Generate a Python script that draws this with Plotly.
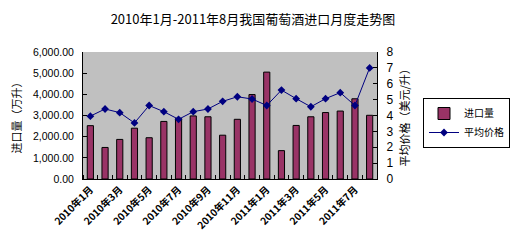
import plotly.graph_objects as go

months = ["2010年1月","2010年2月","2010年3月","2010年4月","2010年5月","2010年6月","2010年7月",
          "2010年8月","2010年9月","2010年10月","2010年11月","2010年12月","2011年1月","2011年2月",
          "2011年3月","2011年4月","2011年5月","2011年6月","2011年7月","2011年8月"]
volume = [2520, 1490, 1870, 2400, 1950, 2720, 2860, 2980, 2940, 2070, 2820, 3990,
          5050, 1340, 2530, 2940, 3140, 3210, 3790, 3010]
price = [3.96, 4.41, 4.18, 3.53, 4.63, 4.24, 3.76, 4.24, 4.41, 4.89, 5.18, 5.04,
         4.63, 5.60, 5.06, 4.55, 5.06, 5.44, 4.63, 7.00]
left_ticks = [0, 1000, 2000, 3000, 4000, 5000, 6000]
left_labels = ["0.00", "1,000.00", "2,000.00", "3,000.00", "4,000.00", "5,000.00", "6,000.00"]
right_ticks = [0, 1, 2, 3, 4, 5, 6, 7, 8]

idx = list(range(len(months)))
shown = idx[::2]

fig = go.Figure()
fig.add_trace(go.Bar(x=idx, y=volume, name="进口量", width=0.42,
                     marker=dict(color="#993366", line=dict(color="black", width=1))))
fig.add_trace(go.Scatter(x=idx, y=price, name="平均价格", yaxis="y2", mode="lines+markers",
                         line=dict(color="#000080", width=1),
                         marker=dict(symbol="diamond", size=6, color="#000080")))

fig.update_layout(
    width=513, height=244,
    margin=dict(l=83, r=136, t=52, b=61),
    paper_bgcolor="white", plot_bgcolor="#C0C0C0",
    showlegend=True,
    title=dict(text="2010年1月-2011年8月我国葡萄酒进口月度走势图", x=253 / 513, xref="container",
               xanchor="center", y=1 - 19 / 244, yanchor="middle",
               font=dict(family="Noto Sans CJK SC", size=13, color="black")),
    xaxis=dict(range=[-0.5, len(months) - 0.5], tickvals=shown,
               ticktext=[months[i] for i in shown], tickangle=-45,
               ticks="", showline=True, linecolor="black", linewidth=1,
               showgrid=False, zeroline=False,
               tickfont=dict(family="Noto Sans CJK SC", size=10, color="black", weight="bold"),
               minor=dict(tickvals=[i - 0.5 for i in range(len(months) + 1)], ticks="inside",
                          ticklen=4, tickcolor="black", showgrid=False)),
    yaxis=dict(range=[0, 6000], tickvals=left_ticks, ticktext=left_labels,
               showline=True, linecolor="black", linewidth=1, ticks="inside", ticklen=4,
               tickcolor="black", showgrid=False, zeroline=False, ticklabelstandoff=6,
               tickfont=dict(family="Liberation Sans, Arial", size=10.5, color="black")),
    yaxis2=dict(range=[0, 8], tickvals=right_ticks, overlaying="y", side="right",
                showline=True, linecolor="black", linewidth=1, ticks="inside", ticklen=4,
                tickcolor="black", showgrid=False, zeroline=False, ticklabelstandoff=6,
                tickfont=dict(family="Liberation Sans, Arial", size=12, color="black")),
    legend=dict(x=423 / 513, y=1 - 98 / 244, xref="container", yref="container",
                xanchor="left", yanchor="top", bgcolor="white", bordercolor="black",
                borderwidth=1, font=dict(family="Noto Sans CJK SC", size=10, color="black"),
                tracegroupgap=0, itemwidth=30),
    annotations=[
        dict(text="进口量（万升）", xref="paper", yref="paper", x=-68 / 294, y=0.5,
             xanchor="center", yanchor="middle", textangle=-90, showarrow=False,
             font=dict(family="Noto Sans CJK SC", size=11, color="black")),
        dict(text="平均价格（美元/升）", xref="paper", yref="paper", x=(403 - 83) / 294, y=0.5,
             xanchor="center", yanchor="middle", textangle=-90, showarrow=False,
             font=dict(family="Noto Sans CJK SC", size=11, color="black")),
    ],
)
fig.write_html("out.html")
